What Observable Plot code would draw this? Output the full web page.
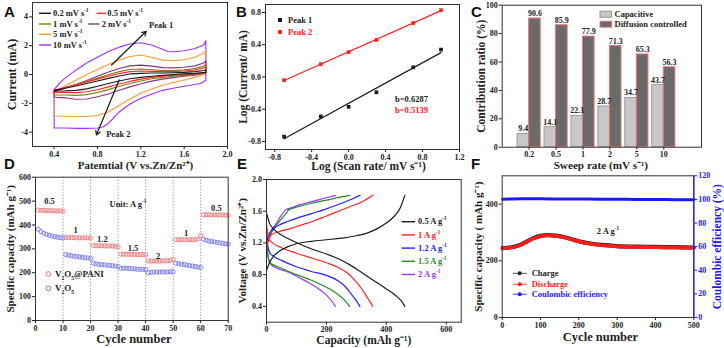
<!DOCTYPE html>
<html><head><meta charset="utf-8">
<script src="https://cdn.jsdelivr.net/npm/d3@7"></script>
<script src="https://cdn.jsdelivr.net/npm/@observablehq/plot@0.6"></script>
<style>
body{margin:0;background:#fff;}
#root{position:relative;width:724px;height:348px;overflow:hidden;font-family:"Liberation Serif","Times New Roman",serif;font-weight:bold;color:#222;}
.lab{position:absolute;font-family:"Liberation Sans",Arial,sans-serif;font-weight:bold;font-size:15px;line-height:1;color:#111;}
.lg{position:absolute;white-space:nowrap;line-height:1;font-weight:bold;}
.lg sup,.lg sub{font-size:0.62em;line-height:0;}
</style></head><body><div id="root"></div><script>
// ================= DATA =================
// Panel A: CV loops (potential V, current mA)
const cvRates = ["0.2", "0.5", "1", "2", "5", "10"];
const cv02 = [[0.4,-1.1],[0.5,-0.95],[0.6,-0.8],[0.7,-0.62],[0.8,-0.45],[0.9,-0.27],[1.0,-0.1],[1.1,0.04],[1.2,0.08],[1.3,0.1],[1.4,0.1],[1.5,0.12],[1.6,0.15],[1.7,0.2],[1.78,0.28],[1.8,0.32],[1.8,0.15],[1.7,0.08],[1.6,0.04],[1.5,0.0],[1.4,-0.06],[1.3,-0.12],[1.2,-0.2],[1.1,-0.3],[1.0,-0.45],[0.9,-0.62],[0.8,-0.82],[0.7,-1.0],[0.6,-1.1],[0.5,-1.14],[0.4,-1.15],[0.4,-1.1]];
const cv05 = [[0.4,-1.1],[0.5,-0.9],[0.6,-0.72],[0.7,-0.52],[0.8,-0.32],[0.9,-0.12],[1.0,0.06],[1.1,0.2],[1.2,0.24],[1.3,0.22],[1.4,0.2],[1.5,0.2],[1.6,0.24],[1.7,0.32],[1.78,0.45],[1.8,0.55],[1.8,0.15],[1.7,0.02],[1.6,-0.02],[1.5,-0.06],[1.4,-0.12],[1.3,-0.2],[1.2,-0.32],[1.1,-0.48],[1.0,-0.66],[0.9,-0.86],[0.8,-1.06],[0.7,-1.2],[0.6,-1.26],[0.5,-1.25],[0.4,-1.25],[0.4,-1.1]];
const cv1 = [[0.4,-1.15],[0.5,-0.92],[0.6,-0.7],[0.7,-0.48],[0.8,-0.25],[0.9,-0.02],[1.0,0.2],[1.1,0.35],[1.2,0.38],[1.3,0.33],[1.4,0.28],[1.5,0.28],[1.6,0.32],[1.7,0.42],[1.78,0.58],[1.8,0.7],[1.8,0.12],[1.7,0.0],[1.6,-0.06],[1.5,-0.12],[1.4,-0.2],[1.3,-0.3],[1.2,-0.45],[1.1,-0.62],[1.0,-0.82],[0.9,-1.05],[0.8,-1.25],[0.7,-1.4],[0.6,-1.45],[0.5,-1.42],[0.4,-1.42],[0.4,-1.15]];
const cv2 = [[0.4,-1.2],[0.5,-0.95],[0.6,-0.7],[0.7,-0.42],[0.8,-0.12],[0.9,0.18],[1.0,0.42],[1.1,0.6],[1.2,0.65],[1.3,0.58],[1.4,0.48],[1.5,0.46],[1.6,0.5],[1.7,0.6],[1.78,0.8],[1.8,0.95],[1.8,0.1],[1.7,-0.05],[1.6,-0.12],[1.5,-0.22],[1.4,-0.32],[1.3,-0.46],[1.2,-0.64],[1.1,-0.86],[1.0,-1.1],[0.9,-1.35],[0.8,-1.55],[0.7,-1.7],[0.6,-1.72],[0.5,-1.62],[0.4,-1.58],[0.4,-1.2]];
const cv5 = [[0.4,-1.2],[0.5,-0.8],[0.6,-0.4],[0.7,0.0],[0.8,0.35],[0.9,0.7],[1.0,1.0],[1.1,1.25],[1.2,1.35],[1.3,1.2],[1.4,1.0],[1.5,0.95],[1.6,1.02],[1.7,1.2],[1.78,1.5],[1.8,1.65],[1.8,0.05],[1.7,-0.2],[1.6,-0.38],[1.5,-0.55],[1.4,-0.75],[1.3,-1.0],[1.2,-1.3],[1.1,-1.7],[1.0,-2.15],[0.9,-2.6],[0.8,-2.85],[0.7,-2.92],[0.6,-2.92],[0.5,-2.9],[0.4,-2.88],[0.4,-1.2]];
const cv10 = [[0.4,-1.05],[0.45,-0.6],[0.5,-0.25],[0.6,0.3],[0.7,0.8],[0.8,1.2],[0.9,1.6],[1.0,1.9],[1.1,2.12],[1.2,2.2],[1.3,2.05],[1.4,1.75],[1.45,1.6],[1.5,1.58],[1.6,1.65],[1.7,1.8],[1.78,2.05],[1.8,2.35],[1.8,-0.4],[1.75,-0.62],[1.7,-0.7],[1.6,-0.82],[1.5,-0.95],[1.4,-1.1],[1.3,-1.35],[1.2,-1.65],[1.1,-2.05],[1.0,-2.6],[0.95,-3.0],[0.9,-3.4],[0.85,-3.65],[0.8,-3.72],[0.7,-3.74],[0.6,-3.74],[0.5,-3.72],[0.4,-3.72],[0.4,-1.05]];
const peakArrows = [
  {name: "Peak 1", x1: 0.93, y1: 0.66, x2: 1.25, y2: 3.0},
  {name: "Peak 2", x1: 1.0, y1: -0.38, x2: 0.79, y2: -4.2}
];

// Panel B: log(scan rate) vs log(peak current)
const scanRates = [0.2, 0.5, 1, 2, 5, 10];
const logPeak1 = [-0.74, -0.49, -0.37, -0.19, 0.12, 0.34];
const logPeak2 = [-0.04, 0.16, 0.31, 0.46, 0.67, 0.83];
const bValues = ["b=0.6287", "b=0.5139"];

// Panel C: contribution ratio
const sweepRates = ["0.2", "0.5", "1", "2", "5", "10"];
const capacitive = [9.4, 14.1, 22.1, 28.7, 34.7, 43.7];
const diffusion = [90.6, 85.9, 77.9, 71.3, 65.3, 56.3];

// Panel D: rate performance (capacity per cycle 1..70)
const rateSteps = ["0.5", "1", "1.2", "1.5", "2", "1", "0.5"];
const capPANI = [462,461,461,460,460,460,459,459,459,458, 348,347,347,347,346,346,346,346,346,345, 314,313,313,313,312,312,312,312,311,308, 278,277,277,277,277,276,276,276,276,276, 249,249,249,249,249,250,250,250,251,256, 338,338,338,338,338,338,338,339,341,356, 443,443,443,442,442,442,442,441,441,440];
const capV2O5 = [382,372,366,361,357,354,351,349,347,346, 276,273,271,269,268,266,265,263,262,260, 240,237,235,234,233,232,231,229,228,226, 218,219,219,218,217,216,215,215,214,213, 200,202,203,203,203,203,203,203,204,204, 240,238,236,234,232,230,228,226,224,222, 340,336,333,331,329,327,325,323,321,320];
const rateLabelPos = [[5.1,500],[14.6,378],[24.3,341],[35.4,303],[44.5,271],[54.7,366],[65.7,470]];

// Panel E: GCD curves [capacity, voltage]
const gcdCurrents = ["0.5", "1", "1.2", "1.5", "2"];
const dis05 = [[0,1.58],[10,1.45],[25,1.37],[50,1.3],[80,1.24],[120,1.17],[160,1.11],[200,1.06],[240,1.0],[280,0.92],[320,0.82],[360,0.72],[400,0.62],[430,0.54],[450,0.47],[462,0.40]];
const chg05 = [[0,0.85],[10,0.95],[25,1.04],[45,1.1],[70,1.15],[100,1.19],[150,1.22],[200,1.24],[250,1.26],[300,1.29],[340,1.33],[370,1.38],[400,1.45],[425,1.53],[445,1.63],[462,1.80]];
const dis1 = [[0,1.45],[3,1.35],[8,1.25],[20,1.2],[50,1.14],[100,1.07],[150,1.01],[200,0.95],[240,0.89],[270,0.82],[290,0.75],[310,0.66],[330,0.55],[345,0.46],[355,0.40]];
const chg1 = [[0,1.12],[5,1.22],[15,1.3],[40,1.34],[80,1.38],[120,1.43],[160,1.48],[200,1.54],[240,1.6],[280,1.66],[320,1.72],[355,1.80]];
const dis12 = [[0,1.35],[5,1.15],[12,1.07],[25,1.03],[50,0.98],[100,0.9],[150,0.84],[200,0.79],[240,0.72],[260,0.66],[280,0.57],[300,0.47],[312,0.40]];
const chg12 = [[0,1.18],[8,1.3],[20,1.37],[40,1.42],[70,1.47],[100,1.51],[150,1.57],[200,1.63],[250,1.7],[290,1.76],[312,1.80]];
const dis15 = [[0,1.25],[5,1.05],[12,0.95],[25,0.92],[50,0.88],[100,0.8],[150,0.73],[190,0.66],[220,0.6],[245,0.53],[265,0.46],[278,0.40]];
const chg15 = [[0,1.15],[10,1.28],[25,1.38],[45,1.48],[65,1.57],[75,1.62],[100,1.65],[150,1.7],[200,1.74],[250,1.78],[278,1.80]];
const dis2 = [[0,1.2],[5,1.02],[12,0.94],[25,0.9],[50,0.86],[80,0.82],[110,0.76],[140,0.7],[170,0.63],[195,0.56],[215,0.48],[230,0.40]];
const chg2 = [[0,1.2],[8,1.3],[20,1.38],[35,1.46],[50,1.55],[62,1.61],[80,1.64],[110,1.68],[150,1.72],[190,1.76],[230,1.80]];

// Panel F: cycling at 2 A/g
const cycF = [1,20,40,60,80,100,120,140,160,180,200,230,260,300,350,400,450,500];
const dischargeF = [244,246,252,264,278,287,290,288,283,276,268,260,255,251,249,248,247,246];
const chargeF = [245,247,253,265,279,288,291,289,284,277,269,261,256,252,250,249,248,247];
const cycCE = [1,50,100,150,200,250,300,350,400,450,500];
const ceF = [100.2,100.6,100.5,100.4,100.3,100.2,100.1,100.0,99.9,99.8,99.8];

// ================= HELPERS =================
const root = document.getElementById("root");
const SERIF = '"Liberation Serif", "Times New Roman", serif';
function place(node, left, top) { node.style.position = "absolute"; node.style.left = left + "px"; node.style.top = top + "px"; root.appendChild(node); return node; }
function styleFor(color = "#222") { return {fontFamily: SERIF, fontWeight: "bold", fontSize: "8px", color, background: "transparent", overflow: "visible"}; }
const axX = (ticks, fmt, extra = {}) => Plot.axisX({ticks, tickFormat: fmt, tickSize: 3, tickPadding: 1.5, label: null, ...extra});
const axY = (ticks, fmt, extra = {}) => Plot.axisY({ticks, tickFormat: fmt, tickSize: 3, tickPadding: 1.5, label: null, ...extra});
const titleY = (t, dx, size = 11.5, anchor = "left") => Plot.text([t], {text: d => d, frameAnchor: anchor, dx, rotate: -90, fontSize: size, fill: "currentColor", textAnchor: "middle", lineAnchor: "middle"});
const titleX = (t, dy, dx = 0, size = 11.5) => Plot.text([t], {text: d => d, frameAnchor: "bottom", dy, dx, fontSize: size, fill: "currentColor", textAnchor: "middle", lineAnchor: "middle"});
const frame = () => Plot.frame({stroke: "#333", strokeWidth: 1});
const f1 = d => d.toFixed(1);
const fInt = d => String(d);

// ================= PANEL A =================
const cvCurves = {"0.2": cv02, "0.5": cv05, "1": cv1, "2": cv2, "5": cv5, "10": cv10};
const cvColor = {"0.2": "#1a1a1a", "0.5": "#ff2a2a", "1": "#7f7f00", "2": "#8b2f8b", "5": "#ff9933", "10": "#9b30ff"};
const A = Plot.plot({
  width: 235, height: 172, marginLeft: 32, marginRight: 8, marginTop: 2, marginBottom: 26,
  style: styleFor(), x: {domain: [0.2, 2.0]}, y: {domain: [-5, 5]},
  marks: [
    ...cvRates.slice().reverse().map(k => Plot.line(cvCurves[k], {x: d => d[0], y: d => d[1], stroke: cvColor[k], strokeWidth: 1.1})),
    Plot.arrow(peakArrows, {x1: "x1", y1: "y1", x2: "x2", y2: "y2", stroke: "#1a1a1a", strokeWidth: 1.2, headLength: 6}),
    Plot.text(peakArrows, {x: d => d.name === "Peak 1" ? 1.275 : 0.88, y: d => d.name === "Peak 1" ? 3.4 : -4.15, text: "name", textAnchor: "start", fontSize: 8.5, fill: "#222"}),
    frame(),
    axX([0.4, 0.8, 1.2, 1.6, 2.0], f1),
    axY([-4, -2, 0, 2, 4], fInt),
    titleY("Current (mA)", -20, 12),
    titleX("Patemtial (V vs.Zn/Zn²⁺)", 19, 5.5, 11)
  ]
});
place(A, 0, 0);

// ================= PANEL B =================
const logRate = scanRates.map(Math.log10);
const pk1 = logRate.map((x, i) => ({x, y: logPeak1[i]}));
const pk2 = logRate.map((x, i) => ({x, y: logPeak2[i]}));
const B = Plot.plot({
  width: 240, height: 172, marginLeft: 30, marginRight: 16, marginTop: 4, marginBottom: 23,
  style: styleFor(), x: {domain: [-0.9, 1.2]}, y: {domain: [-0.9, 0.9]},
  marks: [
    Plot.linearRegressionY(pk1, {x: "x", y: "y", stroke: "#1a1a1a", strokeWidth: 1.2, ci: 0}),
    Plot.linearRegressionY(pk2, {x: "x", y: "y", stroke: "#ff2020", strokeWidth: 1.2, ci: 0}),
    Plot.dot(pk1, {x: "x", y: "y", symbol: "square", fill: "#1a1a1a", r: 2.1}),
    Plot.dot(pk2, {x: "x", y: "y", symbol: "square", fill: "#ff2020", r: 2.1}),
    frame(),
    axX([-0.8, -0.4, 0, 0.4, 0.8, 1.2], f1),
    axY([-0.8, -0.4, 0, 0.4, 0.8], f1),
    titleY("Log (Current/ mA)", -22, 11.5),
    titleX("Log (Scan rate/ mV s⁻¹)", 17, 6, 11.5)
  ]
});
place(B, 235, 0);

// ================= PANEL C =================
const BW = 0.43;
const C = Plot.plot({
  width: 254, height: 172, marginLeft: 31.7, marginRight: 23, marginTop: 4.7, marginBottom: 25.3,
  style: styleFor(), x: {domain: [-1, 6.4]}, y: {domain: [0, 100]},
  marks: [
    Plot.rectY(capacitive, {x1: (d, i) => i - BW, x2: (d, i) => i, y: d => d, fill: "#c8c8c8", stroke: "#8c8c8c", strokeWidth: 0.8}),
    Plot.rectY(diffusion, {x1: (d, i) => i, x2: (d, i) => i + BW, y: d => d, fill: "#6a6a6a", stroke: "#ec7474", strokeWidth: 1}),
    Plot.text(capacitive, {x: (d, i) => i - BW / 2, y: d => d, text: d => d.toFixed(1), dy: -5, fontSize: 8, fill: "#222"}),
    Plot.text(diffusion, {x: (d, i) => i + BW / 2, y: d => d, text: d => d.toFixed(1), dy: -5, fontSize: 8, fill: "#222"}),
    frame(),
    axX([0, 1, 2, 3, 4, 5], i => sweepRates[i], {tickPadding: 1}),
    axY([0, 20, 40, 60, 80, 100], fInt),
    titleY("Contribution ratio (%)", -20.7, 11.5),
    titleX("Sweep rate (mV s⁻¹)", 18, -1, 11.2)
  ]
});
place(C, 470, 0);

// ================= PANEL D =================
const dPANI = capPANI.map((v, i) => ({c: i + 1, v}));
const dV2O5 = capV2O5.map((v, i) => ({c: i + 1, v}));
const D = Plot.plot({
  width: 235, height: 176, marginLeft: 35, marginRight: 7.3, marginTop: 4.7, marginBottom: 28,
  style: styleFor(), x: {domain: [0, 70]}, y: {domain: [0, 600]},
  marks: [
    Plot.ruleX([10, 20, 30, 40, 50, 60], {stroke: "#777", strokeWidth: 0.8, strokeDasharray: "1.2,1.8"}),
    Plot.dot(dV2O5, {x: "c", y: "v", r: 2.1, stroke: "#6a6af0", fill: "none", strokeWidth: 0.8}),
    Plot.dot(dPANI, {x: "c", y: "v", r: 2.1, stroke: "#ee6a6a", fill: "none", strokeWidth: 0.8}),
    Plot.text(rateSteps, {x: (d, i) => rateLabelPos[i][0], y: (d, i) => rateLabelPos[i][1], text: d => d, fontSize: 8.5, fill: "#222"}),
    frame(),
    axX([0, 10, 20, 30, 40, 50, 60, 70], fInt),
    axY([0, 100, 200, 300, 400, 500, 600], fInt),
    titleY("Specific capacity (mAh g⁻¹)", -25, 11),
    titleX("Cycle number", 18.3, 2, 12.5)
  ]
});
place(D, 0, 172);

// ================= PANEL E =================
const gcd = {"0.5": [dis05, chg05], "1": [dis1, chg1], "1.2": [dis12, chg12], "1.5": [dis15, chg15], "2": [dis2, chg2]};
const gcdColor = {"0.5": "#1a1a1a", "1": "#ff2020", "1.2": "#2222ff", "1.5": "#228b22", "2": "#9933ff"};
const E = Plot.plot({
  width: 240, height: 176, marginLeft: 31, marginRight: 14.3, marginTop: 7, marginBottom: 26.3,
  style: styleFor(), x: {domain: [0, 650]}, y: {domain: [0.2, 2.0]},
  marks: [
    ...gcdCurrents.slice().reverse().flatMap(k => gcd[k].map(c => Plot.line(c, {x: d => d[0], y: d => d[1], stroke: gcdColor[k], strokeWidth: 1.2, curve: "monotone-x"}))),
    frame(),
    axX([0, 200, 400, 600], fInt),
    axY([0.4, 0.8, 1.2, 1.6, 2.0], f1),
    titleY("Voltage (V vs.Zn/Zn²⁺)", -24.3, 11),
    titleX("Capacity (mAh g⁻¹)", 18.3, 0, 11.5)
  ]
});
place(E, 235, 172);

// ================= PANEL F =================
const fDis = cycF.map((c, i) => ({c, v: dischargeF[i]}));
const fChg = cycF.map((c, i) => ({c, v: chargeF[i]}));
const fCE = cycCE.map((c, i) => ({c, v: ceF[i]}));
const F1 = Plot.plot({
  width: 254, height: 176, marginLeft: 31.7, marginRight: 30.7, marginTop: 3.3, marginBottom: 31,
  style: styleFor(), x: {domain: [0, 500]}, y: {domain: [0, 500]},
  marks: [
    Plot.line(fChg, {x: "c", y: "v", stroke: "#222", strokeWidth: 4.2, curve: "monotone-x"}),
    Plot.line(fDis, {x: "c", y: "v", stroke: "#ff1a1a", strokeWidth: 3.6, curve: "monotone-x"}),
    frame(),
    axX([0, 100, 200, 300, 400, 500], fInt),
    axY([0, 200, 400], fInt),
    titleY("Specific capacity ( mAh g⁻¹)", -23.7, 11),
    titleX("Cycle number", 19.7, 2.5, 12.5)
  ]
});
place(F1, 470, 172);
const F2 = Plot.plot({
  width: 254, height: 176, marginLeft: 31.7, marginRight: 30.7, marginTop: 3.3, marginBottom: 31,
  style: styleFor("#1a1aff"), x: {domain: [0, 500], axis: null}, y: {domain: [0, 120], axis: null},
  marks: [
    Plot.line(fCE, {x: "c", y: "v", stroke: "#1a1aff", strokeWidth: 3, curve: "monotone-x"}),
    Plot.ruleX([500], {stroke: "#1a1aff", strokeWidth: 1.2}),
    axY([0, 20, 40, 60, 80, 100, 120], fInt, {anchor: "right"}),
    titleY("Coulombic efficiency (%)", 23.4, 11.5, "right")
  ]
});
place(F2, 470, 172);

// ================= LEGENDS & LABELS =================
const ov = d3.create("svg").attr("width", 724).attr("height", 348)
  .style("position", "absolute").style("left", "0px").style("top", "0px").style("pointer-events", "none");
root.appendChild(ov.node());
function txt(x, y, html, color = "#222", size = 8.5, anchor = "start") {
  const d = document.createElement("div");
  d.className = "lg"; d.innerHTML = html;
  d.style.fontSize = size + "px"; d.style.color = color;
  d.style.left = x + "px"; d.style.top = (y - size / 2) + "px";
  if (anchor === "middle") d.style.transform = "translateX(-50%)";
  root.appendChild(d);
}
function seg(x1, x2, y, color, w = 1.3) { ov.append("line").attr("x1", x1).attr("x2", x2).attr("y1", y).attr("y2", y).attr("stroke", color).attr("stroke-width", w); }

// A legend
const aLeg = [["0.2", 39, 51, 13.3, 53], ["0.5", 96.7, 106, 13.3, 107.3], ["1", 39, 51, 24, 53], ["2", 88.3, 99.3, 24, 101.7], ["5", 39, 51, 34.3, 53], ["10", 39, 51, 45, 53]];
aLeg.forEach(([k, x1, x2, y, tx]) => { seg(x1, x2, y, cvColor[k], 1.4); txt(tx, y, `${k} mV s<sup>-1</sup>`); });

// B legend
[["Peak 1", "#1a1a1a", 20], ["Peak 2", "#ff2020", 32]].forEach(([t, c, y]) => {
  ov.append("rect").attr("x", 278).attr("y", y - 2).attr("width", 4).attr("height", 4).attr("fill", c);
  txt(288, y, t, c);
});
txt(395, 99, bValues[0], "#1a1a1a");
txt(395, 110.7, bValues[1], "#ff2020");

// C legend
[["Capacitive", "#c8c8c8", "#8c8c8c", 14.2], ["Diffusion controlled", "#6a6a6a", "#ec7474", 24.2]].forEach(([t, f, s, y]) => {
  ov.append("rect").attr("x", 600).attr("y", y - 3).attr("width", 11.7).attr("height", 6).attr("fill", f).attr("stroke", s).attr("stroke-width", 0.9);
  txt(614.5, y, t);
});

// D legend
[["V<sub>2</sub>O<sub>5</sub>@PANI", "#ee6a6a", 274], ["V<sub>2</sub>O<sub>5</sub>", "#6a6af0", 288.3]].forEach(([t, c, y]) => {
  ov.append("circle").attr("cx", 48.3).attr("cy", y).attr("r", 2.4).attr("fill", "none").attr("stroke", c).attr("stroke-width", 0.9);
  txt(55, y, t, "#222", 9);
});
txt(128, 204.3, "Unit: A g<sup>-1</sup>", "#222", 8.5, "middle");

// E legend
gcdCurrents.forEach((k, i) => {
  const y = 221.7 + i * 13.2;
  seg(401.7, 415, y, gcdColor[k], 1.4);
  txt(418, y, `${k} A g<sup>-1</sup>`, gcdColor[k]);
});

// F legend
[["Charge", "#222", 273.3], ["Discharge", "#ff1a1a", 284.3], ["Coulombic efficiency", "#1a1aff", 294.3]].forEach(([t, c, y]) => {
  seg(512.7, 526.7, y, c, 0.8);
  ov.append("circle").attr("cx", 519.7).attr("cy", y).attr("r", 2).attr("fill", c);
  txt(531.7, y, t, c, 8.5);
});
txt(608, 231.7, "2 A g<sup>-1</sup>", "#222", 8.5, "middle");

// panel letters
[["A", 4, 4], ["B", 236, 4], ["C", 471, 4], ["D", 4, 155.7], ["E", 237, 155.7], ["F", 471, 155.7]].forEach(([t, x, y]) => {
  const d = document.createElement("div"); d.className = "lab"; d.textContent = t; d.style.left = x + "px"; d.style.top = y + "px"; root.appendChild(d);
});
</script></body></html>
